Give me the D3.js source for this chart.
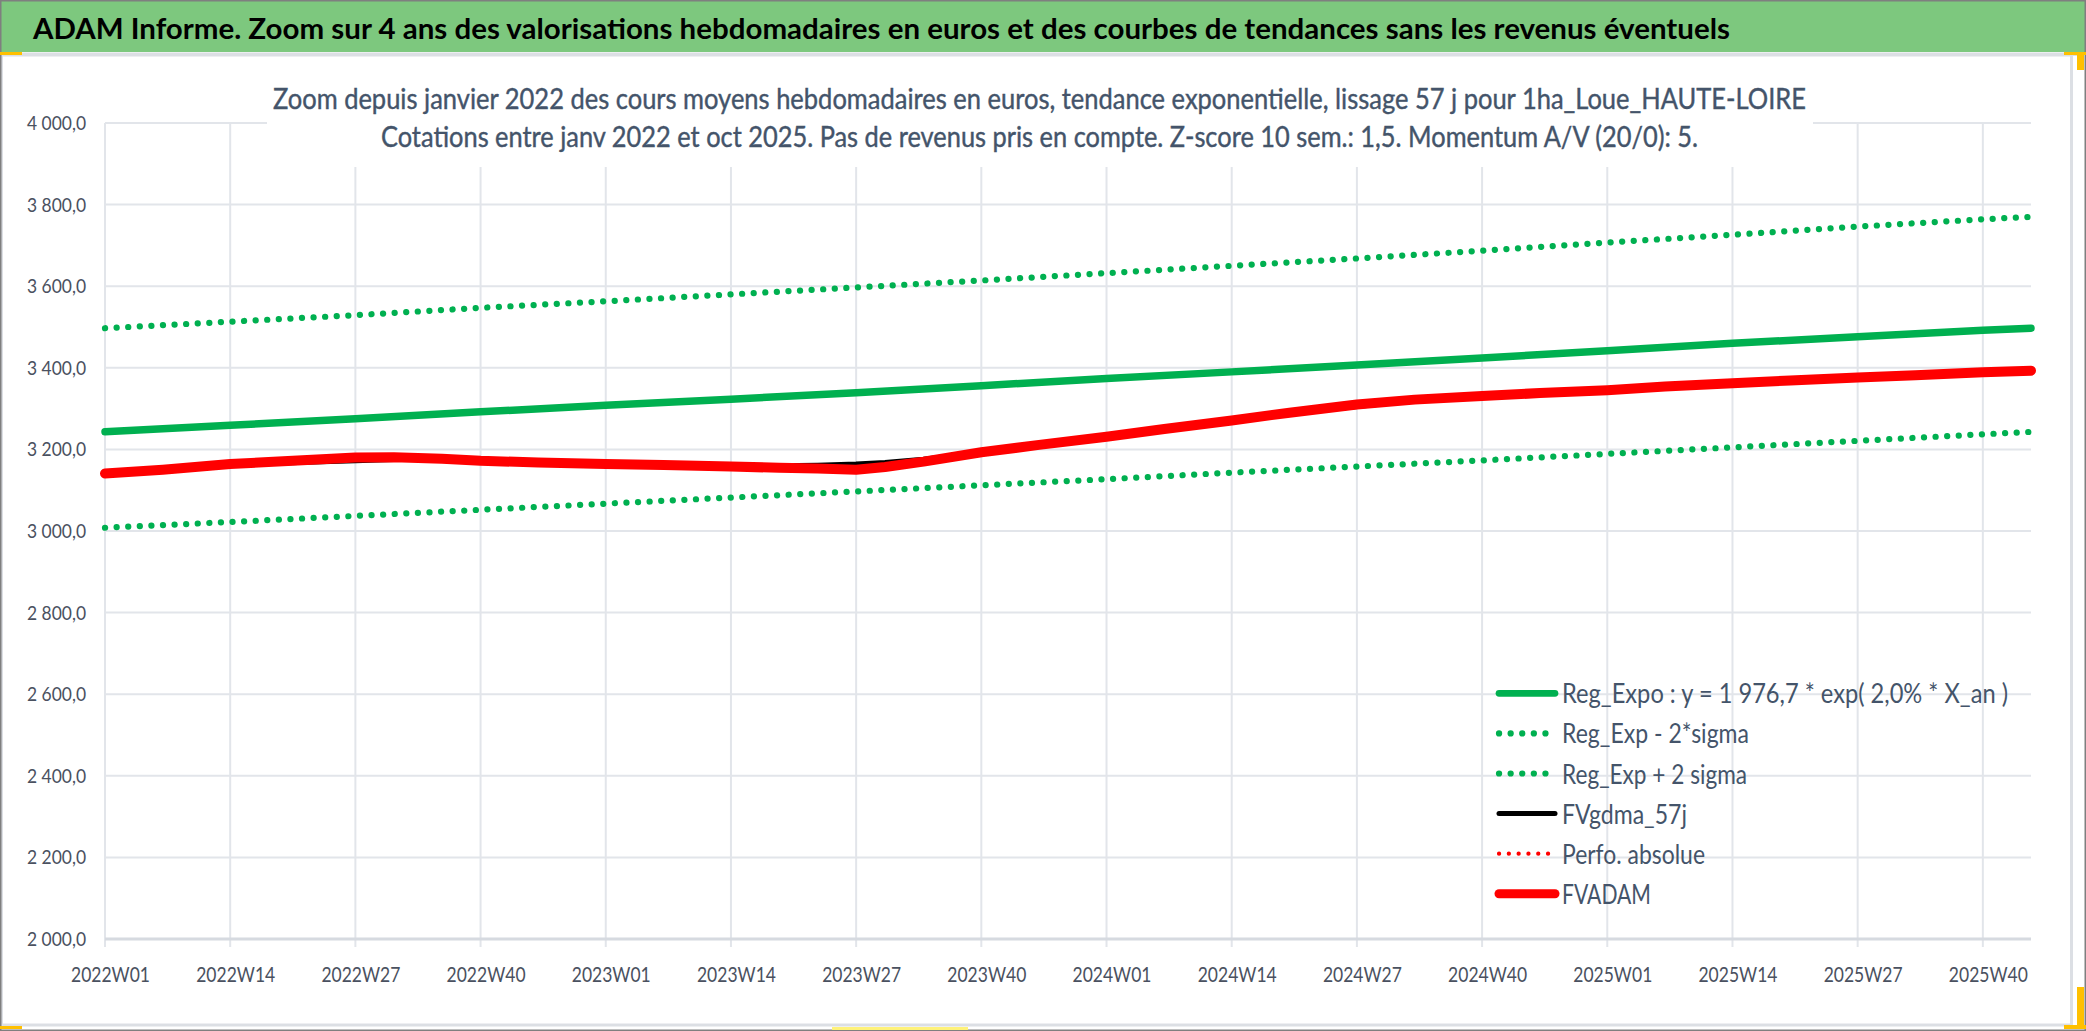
<!DOCTYPE html>
<html><head><meta charset="utf-8">
<script src="https://cdn.jsdelivr.net/npm/d3@7"></script>
<style>body{margin:0;background:#fff}svg{display:block}</style>
</head><body>
<svg id="c" width="2086" height="1031"></svg>
<script>
// ---- data ----
const years = [2022, 2023, 2024, 2025];
const tickLabels = ["2022W01","2022W14","2022W27","2022W40","2023W01","2023W14","2023W27","2023W40",
  "2024W01","2024W14","2024W27","2024W40","2025W01","2025W14","2025W27","2025W40"];
const yTicks = [2000,2200,2400,2600,2800,3000,3200,3400,3600,3800,4000];
const trendWeeks = ["2022W01","2022W14","2022W27","2022W40","2023W01","2023W14","2023W27","2023W40",
  "2024W01","2024W14","2024W27","2024W40","2025W01","2025W14","2025W27","2025W40","2025W45"];
const regExpo  = [3243,3259,3275,3292,3308,3323,3339,3356,3374,3390,3407,3424,3442,3460,3476,3492,3497];
const regMinus = [3008,3022,3037,3052,3067,3082,3097,3112,3127,3143,3158,3173,3189,3205,3221,3237,3243];
const regPlus  = [3497,3513,3529,3547,3563,3580,3597,3614,3632,3650,3668,3687,3707,3726,3746,3764,3770];
const fvWeeks = ["2022W01","2022W07","2022W14","2022W21","2022W27","2022W31","2022W36","2022W40","2022W46",
  "2023W01","2023W07","2023W14","2023W19","2023W23","2023W27","2023W30","2023W34","2023W40","2023W46",
  "2024W01","2024W07","2024W14","2024W20","2024W27","2024W33","2024W40","2024W46",
  "2025W01","2025W07","2025W14","2025W20","2025W27","2025W33","2025W40","2025W45"];
const fvadam = [3141,3150,3164,3173,3180,3181,3177,3172,3168,
  3164,3162,3158,3155,3153,3150,3157,3170,3193,3211,
  3231,3250,3271,3290,3310,3322,3331,3338,
  3345,3354,3362,3369,3376,3382,3389,3393];
const fvgdma = [3141,3150,3162,3168,3172,3175,3175,3172,3168,
  3164,3162,3159,3160,3161,3164,3168,3176,3193,3211,
  3231,3250,3271,3288,3305,3319,3330,3338,
  3345,3354,3362,3369,3376,3382,3389,3393];
const perfo = fvadam.slice();
const legendLabels = ["Reg_Expo : y = 1 976,7 * exp( 2,0% *  X_an )","Reg_Exp - 2*sigma","Reg_Exp + 2 sigma",
  "FVgdma_57j","Perfo. absolue","FVADAM"];
const headerTitle = "ADAM Informe. Zoom sur 4 ans des valorisations hebdomadaires en euros et des courbes de tendances sans les revenus éventuels";
const subTitle1 = "Zoom depuis janvier 2022 des cours moyens hebdomadaires en euros, tendance exponentielle, lissage 57 j pour 1ha_Loue_HAUTE-LOIRE";
const subTitle2 = "Cotations entre janv 2022 et oct 2025. Pas de revenus pris en compte. Z-score 10 sem.: 1,5. Momentum A/V (20/0): 5.";

// categories (ISO week labels, 52 weeks per year here)
const weeks = [];
years.forEach(y => { for (let w = 1; w <= 52; w++) weeks.push(y + "W" + String(w).padStart(2, "0")); });
const cats = weeks.slice(0, weeks.indexOf("2025W45") + 1);

// ---- drawing ----
const FONT = "Lato, 'Open Sans', sans-serif";
const svg = d3.select("#c");
svg.append("rect").attr("width",2086).attr("height",1031).attr("fill","#fff");
svg.append("rect").attr("x",0).attr("y",0).attr("width",2086).attr("height",52).attr("fill","#7DC87E");
svg.append("rect").attr("x",0).attr("y",52.5).attr("width",2080).attr("height",3.5).attr("fill","#DCDFE4");
svg.append("rect").attr("x",1.5).attr("y",55).attr("width",2070).attr("height",970).attr("fill","none")
  .attr("stroke","#DCDFE4").attr("stroke-width",3);
svg.append("rect").attr("x",0.75).attr("y",0.75).attr("width",2084.5).attr("height",1029.5).attr("fill","none")
  .attr("stroke","#7F7F7F").attr("stroke-width",1.5);

svg.append("text").attr("x",33).attr("y",39).attr("font-family",FONT).attr("font-weight","bold")
  .attr("font-size",29).attr("fill","#000").attr("textLength",1697).attr("lengthAdjust","spacingAndGlyphs")
  .text(headerTitle);

const L = 105, R = 2031, T = 123, B = 939;
const x = d3.scalePoint().domain(cats).range([L, R]);
const y = d3.scaleLinear().domain([2000, 4000]).range([B, T]);
const grid = "#E2E5EA";

const g = svg.append("g");
g.selectAll("line.h").data(yTicks.filter(v => v > 2000)).join("line")
  .attr("x1",L).attr("x2",R).attr("y1",d=>y(d)).attr("y2",d=>y(d)).attr("stroke",grid).attr("stroke-width",2);
g.selectAll("line.v").data(tickLabels).join("line")
  .attr("x1",d=>x(d)).attr("x2",d=>x(d)).attr("y1",T).attr("y2",B+8).attr("stroke",grid).attr("stroke-width",2);
g.append("line").attr("x1",L).attr("x2",R).attr("y1",B).attr("y2",B).attr("stroke","#D6DAE0").attr("stroke-width",3);

const fr = d3.formatLocale({decimal:",", thousands:" ", grouping:[3], currency:["","€"]});
const yAxis = d3.axisLeft(y).tickValues(yTicks).tickSize(0).tickPadding(19).tickFormat(fr.format(",.1f"));
const ya = svg.append("g").attr("transform",`translate(${L},0)`).call(yAxis);
ya.select(".domain").remove();
ya.selectAll("text").attr("font-family",FONT).attr("font-size",20).attr("fill","#4A5160")
  .attr("textLength",59).attr("lengthAdjust","spacingAndGlyphs");

const xAxis = d3.axisBottom(x).tickValues(tickLabels).tickSize(0).tickPadding(0);
const xa = svg.append("g").attr("transform",`translate(5,${B})`).call(xAxis);
xa.select(".domain").remove();
xa.selectAll("text").attr("font-family",FONT).attr("font-size",22).attr("fill","#4A5160")
  .attr("dy",null).attr("y",43).attr("textLength",79).attr("lengthAdjust","spacingAndGlyphs");

svg.append("rect").attr("x",267).attr("y",66).attr("width",1546).attr("height",101).attr("fill","#fff");
svg.append("text").attr("x",273).attr("y",109).attr("font-family",FONT).attr("font-size",28).attr("fill","#44546A")
  .attr("stroke","#44546A").attr("stroke-width",0.4)
  .attr("textLength",1533).attr("lengthAdjust","spacingAndGlyphs").text(subTitle1);
svg.append("text").attr("x",381).attr("y",147).attr("font-family",FONT).attr("font-size",28).attr("fill","#44546A")
  .attr("stroke","#44546A").attr("stroke-width",0.4)
  .attr("textLength",1317).attr("lengthAdjust","spacingAndGlyphs").text(subTitle2);

const line = (wk, vals) => d3.line().x((d,i)=>x(wk[i])).y(d=>y(d))(vals);
const styles = [
  {c:"#00B050", w:7.5, dash:null},
  {c:"#00B050", w:6.2, dash:"0.1 11.5"},
  {c:"#00B050", w:6.2, dash:"0.1 11.5"},
  {c:"#000000", w:5, dash:null},
  {c:"#FF0000", w:4.2, dash:"0.1 9.7"},
  {c:"#FF0000", w:10, dash:null}
];
const series = [[trendWeeks,regExpo],[trendWeeks,regMinus],[trendWeeks,regPlus],[fvWeeks,fvgdma],[fvWeeks,perfo],[fvWeeks,fvadam]];
series.forEach((s,i) => {
  const st = styles[i];
  svg.append("path").attr("d", line(s[0], s[1])).attr("fill","none").attr("stroke",st.c)
    .attr("stroke-width",st.w).attr("stroke-linecap","round").attr("stroke-linejoin","round")
    .attr("stroke-dasharray",st.dash);
});

const legendW = [446,187,185,125,143,89];
const lg = svg.append("g");
legendLabels.forEach((lab,i) => {
  const cy = 693.3 + i*40.1, st = styles[i];
  lg.append("line").attr("x1",1499).attr("x2",1555).attr("y1",cy).attr("y2",cy).attr("stroke",st.c)
    .attr("stroke-width", i===5 ? 9 : (i===0 ? 6.7 : st.w)).attr("stroke-linecap","round").attr("stroke-dasharray",st.dash);
  lg.append("text").attr("x",1562).attr("y",cy+10).attr("font-family",FONT).attr("font-size",27).attr("fill","#44546A")
    .attr("textLength",legendW[i]).attr("lengthAdjust","spacingAndGlyphs").text(lab);
});

const hy = "#FFC000";
svg.append("rect").attr("x",0).attr("y",52).attr("width",22).attr("height",3).attr("fill",hy);
svg.append("rect").attr("x",2064).attr("y",52).attr("width",22).attr("height",3).attr("fill",hy);
svg.append("rect").attr("x",2077).attr("y",52).attr("width",7).attr("height",18).attr("fill",hy);
svg.append("rect").attr("x",0).attr("y",1026).attr("width",22).attr("height",3).attr("fill",hy);
svg.append("rect").attr("x",832).attr("y",1027).attr("width",136).attr("height",3).attr("fill","#FFF27A");
svg.append("rect").attr("x",2064).attr("y",1025).attr("width",22).attr("height",4).attr("fill",hy);
svg.append("rect").attr("x",2077).attr("y",987).attr("width",7).attr("height",42).attr("fill",hy);
</script>
</body></html>
